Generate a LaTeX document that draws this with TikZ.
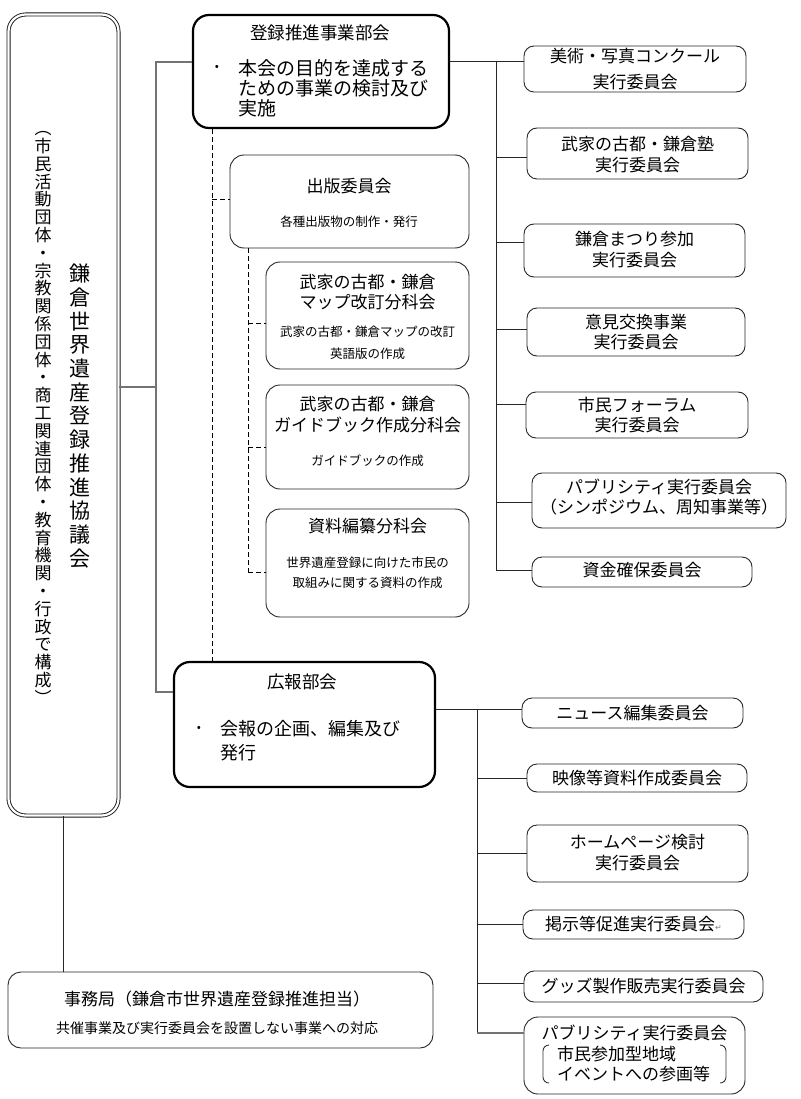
\documentclass[tikz,border=0pt]{standalone}
\usepackage{fontspec}
\setmainfont{Noto Sans CJK JP}
\newfontfamily\djv{DejaVu Sans}
\usetikzlibrary{calc}
\newcommand\fs[2]{\fontsize{#1}{#2}\selectfont}
\begin{document}
\begin{tikzpicture}[x=1pt,y=-1pt,
  tbox/.style={draw=black!85, line width=0.9pt, rounded corners=10pt, inner sep=0pt},
  kbox/.style={draw=black, line width=2.2pt, rounded corners=16pt, inner sep=0pt},
  ttl/.style={font=\fs{17}{21}, align=center, inner sep=0pt},
  subt/.style={font=\fs{12.5}{22}, align=center, inner sep=0pt},
  gline/.style={draw=black!55, line width=1.2pt},
  bline/.style={draw=black!85, line width=1pt},
  dline/.style={draw=black, line width=1pt, dash pattern=on 5pt off 3pt},
]
\useasboundingbox (0,0) rectangle (800,1099);

% left main box
\node[draw=black!90, double, double distance=2.2pt, line width=0.9pt, rounded corners=17pt,
      minimum width=110pt, minimum height=801pt, inner sep=0pt] (L) at (63.5,415) {};
\node[font=\fs{17}{17.8}, align=center, inner sep=0pt] (Lsub) at (43,418)
 {︵\\市\\民\\活\\動\\団\\体\\・\\宗\\教\\関\\係\\団\\体\\・\\商\\工\\関\\連\\団\\体\\・\\教\\育\\機\\関\\・\\行\\政\\で\\構\\成\\︶};
\node[font=\fs{21}{23.7}, align=center, inner sep=0pt] (Ltitle) at (80,416)
 {鎌\\倉\\世\\界\\遺\\産\\登\\録\\推\\進\\協\\議\\会};

% 登録推進事業部会
\node[kbox, minimum width=256pt, minimum height=113pt] (T) at (321,71.5) {};
\node[font=\fs{17.5}{21}, inner sep=0pt] (Tt) at (320,33) {登録推進事業部会};
\node[font=\fs{12}{14}, inner sep=0pt] (Tb) at (217,68) {•};
\node[font=\fs{19}{20}, align=left, anchor=west, inner sep=0pt] (Tx) at (238,88)
 {本会の目的を達成する\\ための事業の検討及び\\実施};

% 出版委員会
\node[tbox, rounded corners=14pt, minimum width=239pt, minimum height=93pt] (P) at (349.5,201.5) {};
\node[ttl] (Pt) at (349,186) {出版委員会};
\node[subt] (Ps) at (349,222) {各種出版物の制作・発行};

% sub committees
\node[tbox, rounded corners=14pt, minimum width=203pt, minimum height=107pt] (S1) at (367.5,315.5) {};
\node[ttl, font=\fs{17}{20}] (S1t) at (367.5,292) {武家の古都・鎌倉\\マップ改訂分科会};
\node[subt] (S1s) at (367.5,343) {武家の古都・鎌倉マップの改訂\\英語版の作成};

\node[tbox, rounded corners=14pt, minimum width=203pt, minimum height=104pt] (S2) at (367.5,437) {};
\node[ttl] (S2t) at (367.5,414.5) {武家の古都・鎌倉\\ガイドブック作成分科会};
\node[subt] (S2s) at (367.5,461) {ガイドブックの作成};

\node[tbox, rounded corners=14pt, minimum width=203pt, minimum height=108pt] (S3) at (367.5,563) {};
\node[ttl] (S3t) at (367.5,526) {資料編纂分科会};
\node[subt, font=\fs{12.5}{20}] (S3s) at (367.5,573) {世界遺産登録に向けた市民の\\取組みに関する資料の作成};

% right committees (登録)
\node[tbox, minimum width=222pt, minimum height=46pt] (r1) at (635,69) {};
\node[ttl, font=\fs{17}{26}] (r1t) at (635,69) {美術・写真コンクール\\実行委員会};
\node[tbox, minimum width=221pt, minimum height=51pt] (r2) at (637.5,153.5) {};
\node[ttl] (r2t) at (637.5,154.5) {武家の古都・鎌倉塾\\実行委員会};
\node[tbox, minimum width=221pt, minimum height=53pt] (r3) at (634.5,250.5) {};
\node[ttl] (r3t) at (634.5,249.5) {鎌倉まつり参加\\実行委員会};
\node[tbox, minimum width=218pt, minimum height=48pt] (r4) at (636,332) {};
\node[ttl, font=\fs{17}{20}] (r4t) at (636,332) {意見交換事業\\実行委員会};
\node[tbox, minimum width=222pt, minimum height=46pt] (r5) at (637,415) {};
\node[ttl, font=\fs{17}{20}] (r5t) at (637,415) {市民フォーラム\\実行委員会};
\node[tbox, minimum width=254pt, minimum height=55pt] (r6) at (659,500.5) {};
\node[ttl, font=\fs{17}{20}] (r6t) at (659,497) {パブリシティ実行委員会\\（シンポジウム、周知事業等）};
\node[tbox, minimum width=220pt, minimum height=30pt] (r7) at (642,572) {};
\node[ttl] (r7t) at (642,570) {資金確保委員会};

% 広報部会
\node[kbox, minimum width=261pt, minimum height=125pt] (K) at (304.5,724.5) {};
\node[font=\fs{17.5}{21}, inner sep=0pt] (Kt) at (302,682) {広報部会};
\node[font=\fs{12}{14}, inner sep=0pt] (Kb) at (199,729) {•};
\node[font=\fs{18}{24}, align=left, anchor=west, inner sep=0pt] (Kx) at (220,741)
 {会報の企画、編集及び\\発行};

% right committees (広報)
\node[tbox, minimum width=221pt, minimum height=30pt] (n1) at (632.5,713) {};
\node[ttl] (n1t) at (632.5,713) {ニュース編集委員会};
\node[tbox, minimum width=220pt, minimum height=28pt] (n2) at (637,778) {};
\node[ttl] (n2t) at (637,778) {映像等資料作成委員会};
\node[tbox, minimum width=221pt, minimum height=57pt] (n3) at (637.5,853.5) {};
\node[ttl] (n3t) at (637.5,852.5) {ホームページ検討\\実行委員会};
\node[tbox, minimum width=221pt, minimum height=29pt] (n4) at (633.5,924.5) {};
\node[ttl] (n4t) at (633.5,924) {掲示等促進実行委員会{\djv\fontsize{8}{9}\selectfont\color{black!50}↵}};
\node[tbox, minimum width=239pt, minimum height=31pt] (n5) at (643.5,986.5) {};
\node[ttl] (n5t) at (643.5,986) {グッズ製作販売実行委員会};
\node[tbox, rounded corners=14pt, minimum width=221pt, minimum height=77pt] (n6) at (634.5,1055.5) {};
\node[ttl] (n6t) at (634.5,1033) {パブリシティ実行委員会};
\node[ttl, font=\fs{17}{20}, align=left, anchor=west] (n6s) at (557,1064) {市民参加型地域\\イベントへの参画等};
\draw[black!80, line width=0.9pt] (549,1045) to[out=180,in=90] (543,1051) -- (543,1077) to[out=-90,in=180] (549,1083);
\draw[black!80, line width=0.9pt] (720,1045) to[out=0,in=90] (726,1051) -- (726,1077) to[out=-90,in=0] (720,1083);

% 事務局
\node[tbox, rounded corners=13pt, minimum width=425pt, minimum height=76pt] (J) at (220.5,1010) {};
\node[ttl] (Jt) at (217,999) {事務局（鎌倉市世界遺産登録推進担当）};
\node[font=\fs{14}{16}, inner sep=0pt] (Js) at (217,1028) {共催事業及び実行委員会を設置しない事業への対応};

% connectors from main box
\coordinate (tl1) at (156,62);
\coordinate (tlm) at (156,387);
\coordinate (tl2) at (156,692);
\draw[gline] (T.west |- tl1) -- (tl1) -- (tl2) -- (K.west |- tl2);
\draw[gline] (L.east |- tlm) -- (tlm);
\draw[bline] (L.south -| 63,0) -- (J.north -| 63,0);

% dashed
\draw[dline] (T.south -| 212,0) -- (K.north -| 212,0);
\draw[dline] (212,200) -- (P.west |- 0,200);
\draw[dline] (P.south -| 248,0) -- (248,572);
\draw[dline] (248,323) -- (S1.west |- 0,323);
\draw[dline] (248,447) -- (S2.west |- 0,447);
\draw[dline] (248,572) -- (S3.west |- 0,572);

% right trunk 登録
\coordinate (ra) at (496,62);
\coordinate (rb) at (496,570);
\draw[bline] (T.east |- ra) -- (r1.west |- ra);
\draw[bline] (ra) -- (rb);
\draw[bline] (496,158) -- (r2.west |- 0,158);
\draw[bline] (496,242) -- (r3.west |- 0,242);
\draw[bline] (496,329) -- (r4.west |- 0,329);
\draw[bline] (496,404) -- (r5.west |- 0,404);
\draw[bline] (496,502) -- (r6.west |- 0,502);
\draw[bline] (rb) -- (r7.west |- rb);

% right trunk 広報
\coordinate (ka) at (477,709);
\coordinate (kb) at (477,1033);
\draw[bline] (K.east |- ka) -- (n1.west |- ka);
\draw[bline] (ka) -- (kb);
\draw[bline] (477,778) -- (n2.west |- 0,778);
\draw[bline] (477,853) -- (n3.west |- 0,853);
\draw[bline] (477,924) -- (n4.west |- 0,924);
\draw[bline] (477,983) -- (n5.west |- 0,983);
\draw[gline] (kb) -- (n6.west |- kb);
\end{tikzpicture}
\end{document}
